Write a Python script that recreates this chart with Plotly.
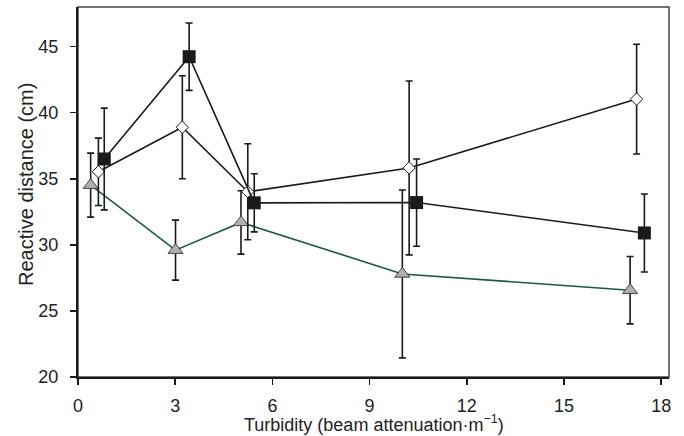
import plotly.graph_objects as go

# Data
sq_x = [0.81, 3.43, 5.44, 10.45, 17.48]
sq_y = [36.5, 44.24, 33.18, 33.2, 30.9]
sq_err = [3.85, 2.55, 2.2, 3.3, 2.95]

dia_x = [0.63, 3.22, 5.24, 10.22, 17.24]
dia_y = [35.53, 38.9, 34.02, 35.82, 41.03]
dia_err = [2.55, 3.9, 3.63, 6.58, 4.15]

tri_x = [0.39, 3.01, 5.03, 10.01, 17.04]
tri_y = [34.52, 29.6, 31.7, 27.8, 26.57]
tri_err = [2.42, 2.27, 2.4, 6.35, 2.55]

x_ticks = [0, 3, 6, 9, 12, 15, 18]
y_ticks = [20, 25, 30, 35, 40, 45]

x_title = "Turbidity (beam attenuation·m<sup>−1</sup>)"
y_title = "Reactive distance (cm)"

FONT = "Liberation Sans, Arial, sans-serif"
DARK = "#1a1a1a"

fig = go.Figure()

fig.add_trace(go.Scatter(
    x=tri_x, y=tri_y, mode="lines+markers",
    line=dict(color="#1d5a3a", width=1.6),
    marker=dict(symbol="triangle-up", size=13, color="#b0b0b0",
                line=dict(color="#444444", width=1)),
    error_y=dict(type="data", array=tri_err, visible=True,
                 color=DARK, thickness=1.6, width=3.5),
    showlegend=False))

fig.add_trace(go.Scatter(
    x=dia_x, y=dia_y, mode="lines+markers",
    line=dict(color=DARK, width=1.6),
    marker=dict(symbol="diamond", size=9.5, color="white",
                line=dict(color=DARK, width=1)),
    error_y=dict(type="data", array=dia_err, visible=True,
                 color=DARK, thickness=1.6, width=3.5),
    showlegend=False))

fig.add_trace(go.Scatter(
    x=sq_x, y=sq_y, mode="lines+markers",
    line=dict(color=DARK, width=1.6),
    marker=dict(symbol="square", size=13, color=DARK,
                line=dict(color=DARK, width=0)),
    error_y=dict(type="data", array=sq_err, visible=True,
                 color=DARK, thickness=1.6, width=3.5),
    showlegend=False))

fig.update_layout(
    width=684, height=436,
    margin=dict(l=78, r=15, t=7, b=59),
    paper_bgcolor="white", plot_bgcolor="white",
    font=dict(family=FONT, size=18, color="#222222"),
    xaxis=dict(range=[0, 18.24], tickvals=x_ticks, ticks="outside",
               ticklen=6, tickwidth=1.5, tickcolor=DARK,
               showline=True, linewidth=2, linecolor=DARK,
               showgrid=False, zeroline=False, automargin=False,
               tickfont=dict(size=18),
               ticklabelstandoff=5),
    yaxis=dict(range=[20, 48], tickvals=y_ticks, ticks="outside",
               ticklen=6, tickwidth=1.5, tickcolor=DARK,
               showline=True, linewidth=2, linecolor=DARK,
               showgrid=False, zeroline=False, automargin=False,
               tickfont=dict(size=18),
               ticklabelstandoff=8),
    shapes=[dict(type="rect", xref="paper", yref="paper",
                 x0=0, y0=0, x1=1, y1=1, layer="below",
                 line=dict(color="#444444", width=1.5))],
    annotations=[
        dict(text=x_title, xref="paper", yref="paper", x=0.5, y=0,
             xanchor="center", yanchor="middle", yshift=-46,
             showarrow=False, font=dict(size=18)),
        dict(text=y_title, xref="paper", yref="paper", x=0, y=0.519,
             xanchor="center", yanchor="middle", xshift=-52,
             textangle=-90, showarrow=False, font=dict(size=20)),
    ],
)

fig.write_html("out.html",
               config={"displayModeBar": False, "staticPlot": True},
               post_script="document.body.style.margin='0';"
                           "document.body.style.overflow='hidden';")
